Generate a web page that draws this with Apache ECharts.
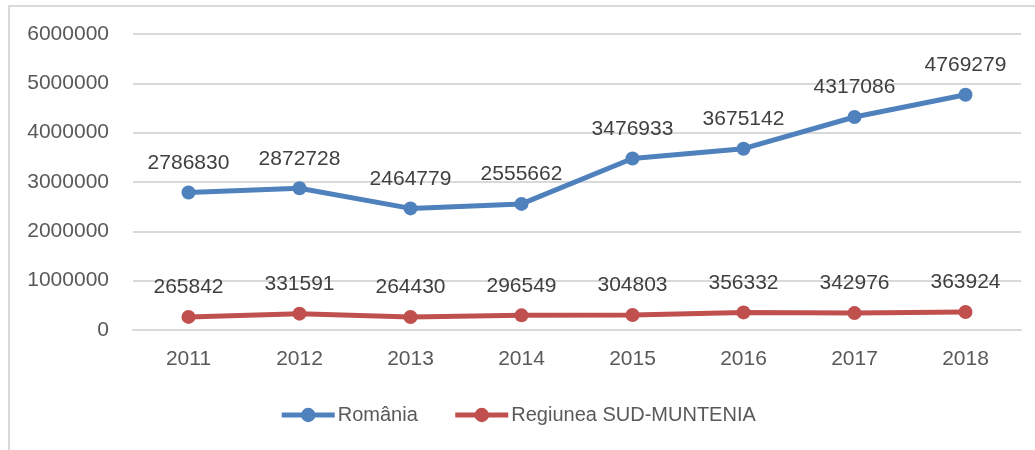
<!DOCTYPE html>
<html>
<head>
<meta charset="utf-8">
<script src="https://cdn.jsdelivr.net/npm/echarts@6/dist/echarts.min.js"></script>
<style>
  html, body { margin: 0; padding: 0; background: #fff; overflow: hidden; }
  #frame {
    position: absolute; left: 8px; top: 5px; width: 1100px; height: 500px;
    border-left: 2px solid #d9d9d9; border-top: 2px solid #d9d9d9;
  }
  #chart { position: absolute; left: 0; top: 0; width: 1035px; height: 450px; }
</style>
</head>
<body>
<div id="frame"></div>
<div id="chart"></div>
<script>
const years = ['2011', '2012', '2013', '2014', '2015', '2016', '2017', '2018']
const romania = [2786830, 2872728, 2464779, 2555662, 3476933, 3675142, 4317086, 4769279]
const sudMuntenia = [265842, 331591, 264430, 296549, 304803, 356332, 342976, 363924]

const fontFamily = '"Liberation Sans", Arial, sans-serif'
const textColor = '#595959'

function lineSeries(name, data, color) {
  return {
    name: name,
    type: 'line',
    data: data,
    symbol: 'circle',
    symbolSize: 14,
    lineStyle: { width: 5, color: color },
    itemStyle: { color: color },
    label: {
      show: true,
      position: 'top',
      distance: 12,
      color: '#404040',
      fontSize: 21,
      fontFamily: fontFamily
    }
  }
}

const chart = echarts.init(document.getElementById('chart'))
chart.setOption({
  animation: false,
  grid: { left: 133, right: 14, top: 34, bottom: 120 },
  legend: {
    left: 'center',
    top: 400,
    itemWidth: 53,
    itemHeight: 18,
    itemGap: 35,
    lineStyle: { width: 5 },
    textStyle: { color: textColor, fontSize: 20, fontFamily: fontFamily, padding: [0, 0, 0, -2] },
    data: ['România', 'Regiunea SUD-MUNTENIA']
  },
  xAxis: {
    type: 'category',
    data: years,
    boundaryGap: true,
    axisLine: { lineStyle: { color: '#d9d9d9', width: 2 } },
    axisTick: { show: false },
    axisLabel: { color: textColor, fontSize: 21, fontFamily: fontFamily, margin: 19 }
  },
  yAxis: {
    type: 'value',
    min: 0,
    max: 6000000,
    interval: 1000000,
    axisLine: { show: false },
    axisTick: { show: false },
    splitLine: { lineStyle: { color: '#d9d9d9', width: 2 } },
    axisLabel: {
      color: textColor, fontSize: 21, fontFamily: fontFamily, margin: 24,
      formatter: v => String(v)
    }
  },
  series: [
    lineSeries('România', romania, '#4f81bd'),
    lineSeries('Regiunea SUD-MUNTENIA', sudMuntenia, '#c0504d')
  ]
})
</script>
</body>
</html>
